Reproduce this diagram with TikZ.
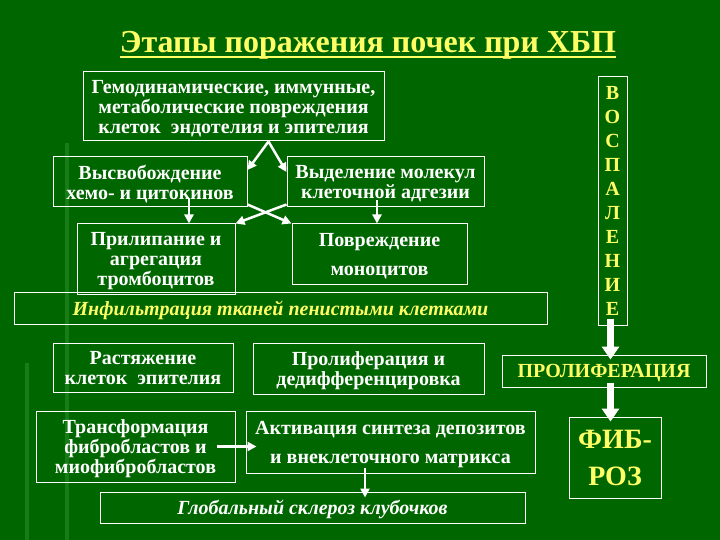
\documentclass[tikz,border=0pt]{standalone}
\usepackage{fontspec}
\setmainfont{Liberation Serif}
\usetikzlibrary{positioning,arrows.meta,calc}
\definecolor{slidegreen}{RGB}{0,102,0}
\definecolor{stripegreen}{RGB}{24,124,24}
\definecolor{slideyellow}{RGB}{255,255,102}
\tikzset{
  fig/.style={x=1pt,y=-1pt},
  box/.style={draw=white,line width=1pt,align=center,inner sep=2pt,text=white,
              text depth=-2pt,font=\fontsize{20}{20}\selectfont\bfseries},
  ybox/.style={box,text=slideyellow},
  sz/.style 2 args={minimum width=#1pt,minimum height=#2pt},
  ln/.style={-{Triangle[length=9pt,width=9pt]},white,line width=2.5pt},
  fat/.style={-{Triangle[length=13pt,width=17pt]},white,line width=7pt},
}

\begin{document}
\begin{tikzpicture}[fig,
  it/.style={font=\fontsize{20}{20}\selectfont\bfseries\itshape},
  wide/.style={font=\fontsize{20}{29}\selectfont\bfseries}]

\fill[slidegreen] (0,0) rectangle (720,540);
\useasboundingbox (0,0) rectangle (720,540);
\fill[stripegreen] (65,143) rectangle (69,540);
\fill[stripegreen] (25,363) rectangle (29,540);

\node[inner sep=0pt,anchor=base,text=slideyellow,
      font=\fontsize{32}{32}\selectfont\bfseries] (title) at (368,53)
  {Этапы поражения почек при ХБП};
\draw[slideyellow,line width=1.6pt] ($(title.base west)+(0,4)$) -- ($(title.base east)+(0,4)$);

\node[box,sz={301}{69}] (dmg) at (233.5,106.5)
  {Гемодинамические, иммунные,\\метаболические повреждения\\клеток\ \ эндотелия и эпителия};
\node[box,sz={194}{50}] (chem) at (150,182) {Высвобождение\\хемо- и цитокинов};
\node[box,sz={197}{50}] (adh) at (385.5,182) {Выделение молекул\\клеточной адгезии};
\node[box,sz={158}{70}] (plt) at (156,259) {Прилипание и\\агрегация\\тромбоцитов};
\node[box,wide,sz={175}{60}] (mono) at (379.5,254) {Повреждение\\моноцитов};
\node[ybox,it,sz={533}{32}] (infl) at (280.5,308) {Инфильтрация тканей пенистыми клетками};

\node[box,sz={180}{49}] (strch) at (143,367.5) {Растяжение\\клеток\ \ эпителия};
\node[box,sz={231}{51}] (prolif) at (368.5,368.5) {Пролиферация и\\дедифференцировка};
\node[box,sz={199}{71}] (transf) at (135.5,446.5) {Трансформация\\фибробластов и\\миофибробластов};
\node[box,wide,sz={289}{62}] (matrix) at (390.5,442) {Активация синтеза депозитов\\и внеклеточного матрикса};
\node[box,it,sz={425}{31}] (scler) at (312.5,507.5) {Глобальный склероз клубочков};

\node[ybox,sz={29}{248},font=\fontsize{20}{24}\selectfont\bfseries] (vosp) at (612.5,201)
  {В\\О\\С\\П\\А\\Л\\Е\\Н\\И\\Е};
\node[ybox,sz={204}{32}] (prol) at (604,371) {ПРОЛИФЕРАЦИЯ};
\node[ybox,sz={92}{81},text depth=-12pt,font=\fontsize{28}{37}\selectfont\bfseries] (fib)
  at (615,457.5) {ФИБ-\\РОЗ};

\coordinate (apex) at ($(dmg.south)+(35,0)$);
\draw[ln] (apex) -- ($(chem.east)+(0,-12)$);
\draw[ln] (apex) -- ($(adh.west)+(0,-10)$);
\draw[ln] ($(chem.south east)+(0,-3)$) -- (mono.north west);
\draw[ln] ($(adh.south west)+(0,-3)$) -- (plt.north east);
\draw[ln] ($(chem.south)+(39,-8)$) -- ($(plt.north)+(33,0)$);
\draw[ln] ($(adh.south)+(-8.5,-7)$) -- ($(mono.north)+(-2.5,0)$);
\draw[ln] ($(transf.east)+(-19,0)$) -- ($(transf.east -| matrix.west)+(11,0)$);
\draw[ln] ($(matrix.south)+(-25.5,-6)$) -- ($(matrix.south |- scler.north)+(-25.5,6)$);

\draw[fat] ($(vosp.south)+(-2,-7)$) -- ($(vosp.south |- prol.north)+(-2,5)$);
\draw[fat] ($(vosp.south |- prol.south)+(-2,-5)$) -- ($(vosp.south |- fib.north)+(-2,5)$);

\end{tikzpicture}
\end{document}
